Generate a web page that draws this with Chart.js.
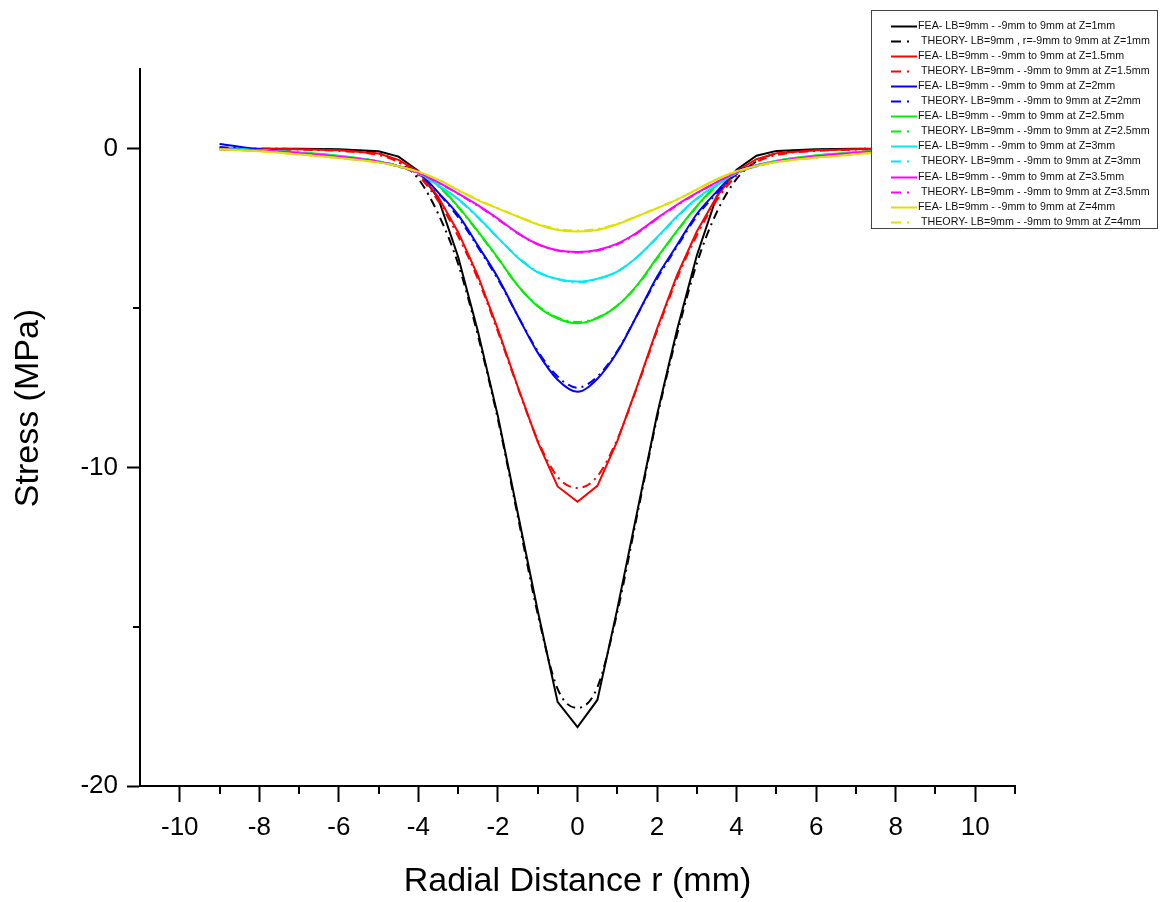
<!DOCTYPE html>
<html>
<head>
<meta charset="utf-8">
<script src="https://cdn.jsdelivr.net/npm/chart.js@4.4.1/dist/chart.umd.min.js"></script>
<style>
  html, body { margin: 0; padding: 0; background: #fff; }
  #wrap { width: 1161px; height: 902px; position: relative; }
</style>
</head>
<body>
<div id="wrap"><canvas id="c"></canvas></div>
<script>
// ---- data ----
const rValues = [-9,-8,-7,-6,-5,-4.5,-4,-3.5,-3,-2.5,-2,-1.5,-1,-0.5,0,0.5,1,1.5,2,2.5,3,3.5,4,4.5,5,6,7,8,9];

const feaZ1    = [0,0,0,-0.02,-0.08,-0.25,-0.7,-1.56,-3.4,-5.75,-8.4,-11.45,-14.5,-17.36,-18.15,-17.3,-14.45,-11.4,-8.35,-5.7,-3.35,-1.5,-0.66,-0.22,-0.07,-0.02,0,0,0];
const theoryZ1 = [0,0,-0.01,-0.04,-0.15,-0.42,-0.95,-2.05,-3.62,-5.88,-8.5,-11.55,-14.6,-16.95,-17.55,-16.9,-14.55,-11.5,-8.45,-5.85,-3.6,-2.0,-0.95,-0.4,-0.15,-0.04,-0.01,0,0];
const feaZ15    = [0,-0.01,-0.02,-0.05,-0.15,-0.35,-0.72,-1.52,-2.62,-4.0,-5.67,-7.48,-9.2,-10.6,-11.08,-10.58,-9.18,-7.45,-5.65,-3.98,-2.6,-1.5,-0.7,-0.33,-0.14,-0.05,-0.02,-0.01,0];
const theoryZ15 = [0,-0.01,-0.03,-0.07,-0.2,-0.42,-0.85,-1.65,-2.75,-4.1,-5.75,-7.5,-9.15,-10.3,-10.65,-10.28,-9.12,-7.48,-5.72,-4.08,-2.72,-1.62,-0.84,-0.42,-0.2,-0.07,-0.03,-0.01,0];
const feaZ2    = [0.15,-0.02,-0.13,-0.28,-0.42,-0.55,-0.74,-1.38,-2.08,-3.05,-4.05,-5.25,-6.4,-7.25,-7.63,-7.22,-6.38,-5.22,-4.02,-3.03,-2.05,-1.35,-0.72,-0.52,-0.4,-0.26,-0.12,-0.02,0.1];
const theoryZ2 = [0.05,-0.03,-0.12,-0.26,-0.4,-0.55,-0.8,-1.4,-2.15,-3.1,-4.1,-5.25,-6.35,-7.15,-7.5,-7.15,-6.35,-5.22,-4.08,-3.08,-2.12,-1.4,-0.8,-0.54,-0.4,-0.25,-0.12,-0.03,0.03];
const feaZ25    = [-0.01,-0.05,-0.12,-0.22,-0.4,-0.55,-0.76,-1.16,-1.82,-2.6,-3.43,-4.3,-4.95,-5.33,-5.48,-5.32,-4.93,-4.28,-3.42,-2.58,-1.8,-1.15,-0.75,-0.53,-0.38,-0.21,-0.11,-0.04,-0.01];
const theoryZ25 = [-0.01,-0.05,-0.12,-0.23,-0.41,-0.56,-0.78,-1.18,-1.84,-2.62,-3.45,-4.3,-4.93,-5.3,-5.44,-5.3,-4.92,-4.3,-3.45,-2.6,-1.82,-1.17,-0.77,-0.55,-0.4,-0.22,-0.12,-0.05,-0.01];
const feaZ3    = [-0.01,-0.05,-0.13,-0.24,-0.4,-0.55,-0.76,-1.15,-1.58,-2.15,-2.8,-3.42,-3.88,-4.09,-4.17,-4.08,-3.86,-3.4,-2.78,-2.13,-1.56,-1.13,-0.75,-0.53,-0.39,-0.23,-0.12,-0.05,-0.01];
const theoryZ3 = [-0.01,-0.05,-0.13,-0.25,-0.41,-0.56,-0.78,-1.16,-1.6,-2.17,-2.8,-3.4,-3.86,-4.1,-4.2,-4.1,-3.85,-3.4,-2.8,-2.16,-1.58,-1.15,-0.77,-0.55,-0.4,-0.24,-0.13,-0.05,-0.01];
const feaZ35    = [-0.02,-0.06,-0.14,-0.25,-0.41,-0.55,-0.75,-1.06,-1.41,-1.78,-2.2,-2.65,-3.0,-3.19,-3.24,-3.18,-2.98,-2.63,-2.18,-1.76,-1.39,-1.05,-0.74,-0.54,-0.4,-0.24,-0.13,-0.05,-0.01];
const theoryZ35 = [-0.02,-0.06,-0.14,-0.26,-0.42,-0.56,-0.76,-1.07,-1.42,-1.8,-2.22,-2.66,-3.0,-3.2,-3.26,-3.2,-3.0,-2.65,-2.2,-1.78,-1.4,-1.06,-0.75,-0.55,-0.41,-0.25,-0.14,-0.06,-0.02];
const feaZ4    = [-0.02,-0.08,-0.18,-0.29,-0.43,-0.55,-0.72,-0.97,-1.3,-1.62,-1.88,-2.13,-2.38,-2.55,-2.6,-2.55,-2.37,-2.12,-1.87,-1.6,-1.28,-0.96,-0.71,-0.54,-0.42,-0.28,-0.17,-0.07,-0.02];
const theoryZ4 = [-0.02,-0.08,-0.18,-0.3,-0.44,-0.56,-0.73,-0.98,-1.3,-1.6,-1.87,-2.13,-2.36,-2.52,-2.57,-2.52,-2.36,-2.12,-1.86,-1.6,-1.29,-0.97,-0.72,-0.55,-0.43,-0.29,-0.18,-0.08,-0.02];

const seriesLabels = [
  "FEA- LB=9mm - -9mm to 9mm at Z=1mm",
  " THEORY- LB=9mm , r=-9mm to 9mm at Z=1mm",
  "FEA- LB=9mm - -9mm to 9mm at Z=1.5mm",
  " THEORY- LB=9mm - -9mm to 9mm at Z=1.5mm",
  "FEA- LB=9mm - -9mm to 9mm at Z=2mm",
  " THEORY- LB=9mm - -9mm to 9mm at Z=2mm",
  "FEA- LB=9mm - -9mm to 9mm at Z=2.5mm",
  " THEORY- LB=9mm - -9mm to 9mm at Z=2.5mm",
  "FEA- LB=9mm - -9mm to 9mm at Z=3mm",
  " THEORY- LB=9mm - -9mm to 9mm at Z=3mm",
  "FEA- LB=9mm - -9mm to 9mm at Z=3.5mm",
  " THEORY- LB=9mm - -9mm to 9mm at Z=3.5mm",
  "FEA- LB=9mm - -9mm to 9mm at Z=4mm",
  " THEORY- LB=9mm - -9mm to 9mm at Z=4mm"
];
const xTickValues = [-10,-8,-6,-4,-2,0,2,4,6,8,10];
const xMinorTickValues = [-9,-7,-5,-3,-1,1,3,5,7,9,11];
const yTickValues = [-20,-10,0];
const yMinorTickValues = [-15,-5];
const xTitle = "Radial Distance r (mm)";
const yTitle = "Stress (MPa)";

// ---- styling ----
const seriesValues = [feaZ1, theoryZ1, feaZ15, theoryZ15, feaZ2, theoryZ2, feaZ25, theoryZ25, feaZ3, theoryZ3, feaZ35, theoryZ35, feaZ4, theoryZ4];
const colors = ['#000000','#ff0000','#0000ff','#00ee00','#00e8f0','#ff00ff','#e0e000'];
const DASH = [9,5,2,5];
const FONT = "'Liberation Sans', Arial, Helvetica, sans-serif";
Chart.defaults.font.family = FONT;
Chart.defaults.color = '#000';

const datasets = seriesValues.map((vals, i) => {
  const theory = i % 2 === 1;
  const c = colors[Math.floor(i / 2)];
  const sharp = !theory && i < 4;
  return {
    label: seriesLabels[i],
    data: rValues.map((x, k) => ({x: x, y: vals[k]})),
    borderColor: c,
    backgroundColor: c,
    borderWidth: 2,
    borderDash: theory ? DASH : [],
    pointRadius: 0,
    fill: false,
    tension: 0,
    cubicInterpolationMode: sharp ? 'default' : 'monotone',
    order: 13 - i
  };
});

const decorPlugin = {
  id: 'decor',
  afterDraw(chart) {
    const ctx = chart.ctx;
    const xs = chart.scales.x, ys = chart.scales.y;
    const area = chart.chartArea;
    ctx.save();
    // minor ticks
    ctx.strokeStyle = '#000';
    ctx.lineWidth = 2;
    ctx.beginPath();
    xMinorTickValues.forEach(v => {
      const px = Math.round(xs.getPixelForValue(v));
      ctx.moveTo(px, area.bottom);
      ctx.lineTo(px, area.bottom + 8);
    });
    yMinorTickValues.forEach(v => {
      const py = Math.round(ys.getPixelForValue(v));
      ctx.moveTo(area.left, py);
      ctx.lineTo(area.left - 7, py);
    });
    ctx.stroke();
    // y axis title
    ctx.save();
    ctx.translate(29, 408);
    ctx.rotate(-Math.PI / 2);
    ctx.font = '34px ' + FONT;
    ctx.fillStyle = '#000';
    ctx.textAlign = 'center';
    ctx.textBaseline = 'middle';
    ctx.fillText(yTitle, 0, 0);
    ctx.restore();
    // legend box
    const bx = 871, by = 10, bw = 286, bh = 218;
    ctx.fillStyle = '#fff';
    ctx.fillRect(bx, by, bw, bh);
    ctx.lineWidth = 1;
    ctx.strokeStyle = '#444';
    ctx.strokeRect(bx + 0.5, by + 0.5, bw, bh);
    ctx.font = '10.7px ' + FONT;
    ctx.textBaseline = 'middle';
    ctx.textAlign = 'left';
    chart.data.datasets.forEach((ds, i) => {
      const yy = Math.round(25.7 + i * 15.08) + 0.5;
      ctx.strokeStyle = ds.borderColor;
      ctx.lineWidth = 2;
      ctx.setLineDash(ds.borderDash.length ? [10,6,2,8] : []);
      ctx.beginPath();
      ctx.moveTo(891, yy);
      ctx.lineTo(917, yy);
      ctx.stroke();
      ctx.setLineDash([]);
      ctx.fillStyle = '#111';
      ctx.fillText(ds.label, 918, yy);
    });
    ctx.restore();
  }
};

new Chart(document.getElementById('c'), {
  type: 'line',
  data: { datasets: datasets },
  plugins: [decorPlugin],
  options: {
    responsive: true,
    maintainAspectRatio: false,
    animation: false,
    layout: { padding: { top: 69, right: 146, left: 0, bottom: 0 } },
    plugins: { legend: { display: false }, tooltip: { enabled: false } },
    scales: {
      x: {
        type: 'linear',
        min: -11, max: 11,
        afterBuildTicks: s => { s.ticks = xTickValues.map(v => ({value: v})); },
        afterFit: s => { s.height = 116; },
        ticks: { font: { size: 26 }, color: '#000', padding: 10, maxRotation: 0, autoSkip: false,
                 callback: v => String(v) },
        grid: { drawOnChartArea: false, drawTicks: true, tickLength: 16, tickWidth: 2, tickColor: '#000' },
        border: { display: true, color: '#000', width: 2 },
        title: { display: true, text: xTitle, font: { size: 34 }, color: '#000', padding: { top: 0, bottom: 0 } }
      },
      y: {
        type: 'linear',
        min: -20, max: 2.5,
        afterBuildTicks: s => { s.ticks = yTickValues.map(v => ({value: v})); },
        afterFit: s => { s.width = 140; },
        ticks: { font: { size: 26 }, color: '#000', padding: 9, autoSkip: false,
                 callback: v => String(v) },
        grid: { drawOnChartArea: false, drawTicks: true, tickLength: 13, tickWidth: 2, tickColor: '#000' },
        border: { display: true, color: '#000', width: 2 }
      }
    }
  }
});
</script>
</body>
</html>
